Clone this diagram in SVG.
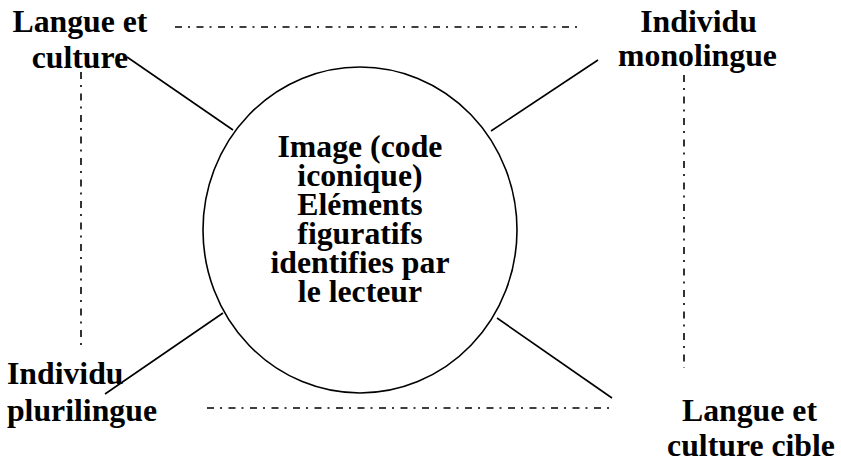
<svg xmlns="http://www.w3.org/2000/svg" width="841" height="463" viewBox="0 0 841 463">
  <style>
    .lbl { font-family: "Liberation Serif", "Times New Roman", serif; font-weight: bold; font-size: 31px; fill: #000; }
    .mid { text-anchor: middle; }
    .solid { stroke: #000; stroke-width: 1.6; fill: none; }
    .dashdot { stroke: #000; stroke-width: 1.6; fill: none; stroke-dasharray: 7 6 2 6.5; }
  </style>
  <rect width="841" height="463" fill="#fff"/>

  <!-- connectors: spokes from the centre and dash-dot frame -->
  <g id="connectors">
    <line class="solid" x1="127" y1="57" x2="233" y2="130"/>
    <line class="solid" x1="598" y1="60" x2="491" y2="131"/>
    <line class="solid" x1="105" y1="394" x2="223" y2="313"/>
    <line class="solid" x1="497" y1="318" x2="612" y2="398"/>
    <line class="dashdot" x1="175" y1="27" x2="583" y2="27"/>
    <line class="dashdot" x1="207" y1="408" x2="613" y2="408"/>
    <line class="dashdot" x1="81" y1="72" x2="81" y2="345"/>
    <line class="dashdot" x1="684" y1="75" x2="684" y2="368"/>
  </g>

  <g id="centre">
    <ellipse class="solid" cx="360" cy="230" rx="157" ry="163"/>
    <g transform="scale(1.025 1)">
      <text class="lbl mid" x="351.2" y="157">Image (code</text>
      <text class="lbl mid" x="351.2" y="186">iconique)</text>
      <text class="lbl mid" x="351.2" y="215">Eléments</text>
      <text class="lbl mid" x="351.2" y="244">figuratifs</text>
      <text class="lbl mid" x="351.2" y="273">identifies par</text>
      <text class="lbl mid" x="351.2" y="302">le lecteur</text>
    </g>
  </g>

  <g id="langue-culture" transform="scale(1.025 1)">
    <text class="lbl mid" x="78" y="32">Langue et</text>
    <text class="lbl mid" x="78" y="68">culture</text>
  </g>

  <g id="individu-monolingue" transform="scale(1.025 1)">
    <text class="lbl mid" x="681.5" y="32">Individu</text>
    <text class="lbl mid" x="680.5" y="66">monolingue</text>
  </g>

  <g id="individu-plurilingue" transform="scale(1.025 1)">
    <text class="lbl" x="6.8" y="384">Individu</text>
    <text class="lbl" x="6.8" y="421">plurilingue</text>
  </g>

  <g id="langue-culture-cible" transform="scale(1.025 1)">
    <text class="lbl mid" x="731.2" y="421">Langue et</text>
    <text class="lbl mid" x="732.7" y="456">culture cible</text>
  </g>
</svg>
